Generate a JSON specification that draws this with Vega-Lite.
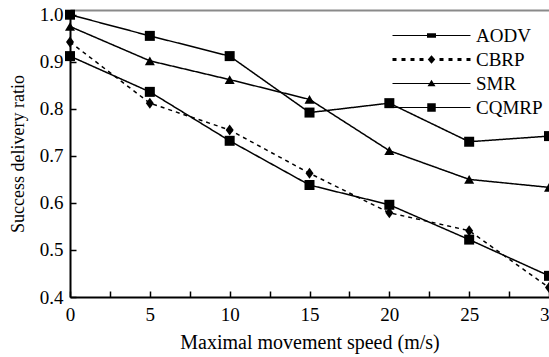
{
  "$schema": "https://vega.github.io/schema/vega-lite/v6.json",
  "width": 479,
  "height": 287,
  "autosize": "none",
  "padding": {"left": 70, "top": 10, "right": 0, "bottom": 60},
  "background": "white",
  "config": {
    "view": {"stroke": null},
    "font": "Liberation Serif",
    "axis": {
      "domainColor": "black",
      "domainWidth": 2,
      "tickColor": "black",
      "tickWidth": 1.5,
      "labelColor": "black",
      "titleColor": "black",
      "labelFont": "Liberation Serif",
      "titleFont": "Liberation Serif",
      "labelFontSize": 19,
      "titleFontSize": 19,
      "titleFontWeight": "normal",
      "grid": false
    },
    "legend": {
      "labelFont": "Liberation Serif",
      "labelFontSize": 19,
      "labelColor": "black"
    }
  },
  "resolve": {"scale": {"shape": "independent"}, "legend": {"shape": "independent"}},
  "data": {
    "values": [
      {"speed": 0, "protocol": "AODV", "ratio": 0.912},
      {"speed": 5, "protocol": "AODV", "ratio": 0.836},
      {"speed": 10, "protocol": "AODV", "ratio": 0.732},
      {"speed": 15, "protocol": "AODV", "ratio": 0.638},
      {"speed": 20, "protocol": "AODV", "ratio": 0.596},
      {"speed": 25, "protocol": "AODV", "ratio": 0.522},
      {"speed": 30, "protocol": "AODV", "ratio": 0.445},
      {"speed": 0, "protocol": "CBRP", "ratio": 0.942},
      {"speed": 5, "protocol": "CBRP", "ratio": 0.812},
      {"speed": 10, "protocol": "CBRP", "ratio": 0.755},
      {"speed": 15, "protocol": "CBRP", "ratio": 0.663},
      {"speed": 20, "protocol": "CBRP", "ratio": 0.579},
      {"speed": 25, "protocol": "CBRP", "ratio": 0.541},
      {"speed": 30, "protocol": "CBRP", "ratio": 0.42},
      {"speed": 0, "protocol": "SMR", "ratio": 0.975},
      {"speed": 5, "protocol": "SMR", "ratio": 0.902},
      {"speed": 10, "protocol": "SMR", "ratio": 0.862},
      {"speed": 15, "protocol": "SMR", "ratio": 0.82},
      {"speed": 20, "protocol": "SMR", "ratio": 0.711},
      {"speed": 25, "protocol": "SMR", "ratio": 0.65},
      {"speed": 30, "protocol": "SMR", "ratio": 0.633},
      {"speed": 0, "protocol": "CQMRP", "ratio": 1.0},
      {"speed": 5, "protocol": "CQMRP", "ratio": 0.955},
      {"speed": 10, "protocol": "CQMRP", "ratio": 0.912},
      {"speed": 15, "protocol": "CQMRP", "ratio": 0.792},
      {"speed": 20, "protocol": "CQMRP", "ratio": 0.812},
      {"speed": 25, "protocol": "CQMRP", "ratio": 0.73},
      {"speed": 30, "protocol": "CQMRP", "ratio": 0.742}
    ]
  },
  "layer": [
    {
      "mark": {"type": "line", "color": "black", "strokeWidth": 1.5, "clip": false},
      "encoding": {
        "x": {
          "field": "speed", "type": "quantitative",
          "scale": {"domain": [0, 30], "nice": false},
          "axis": {"orient": "top", "labels": false, "ticks": false, "title": null, "domainColor": "#8a8a8a", "domainWidth": 2}
        },
        "y": {
          "field": "ratio", "type": "quantitative",
          "scale": {"domain": [0.4, 1.01], "nice": false, "zero": false}
        },
        "detail": {"field": "protocol"},
        "strokeDash": {
          "condition": {"test": "datum.protocol == 'CBRP'", "value": [4, 4]},
          "value": [1, 0]
        },
        "strokeWidth": {
          "condition": {"test": "datum.protocol == 'CBRP'", "value": 2.2},
          "value": 1.5
        }
      }
    },
    {
      "mark": {"type": "point", "filled": true, "color": "black", "opacity": 1, "size": 100, "clip": false},
      "encoding": {
        "x": {
          "field": "speed", "type": "quantitative",
          "scale": {"domain": [0, 30], "nice": false},
          "axis": {
            "orient": "bottom",
            "values": [0, 2.5, 5, 7.5, 10, 12.5, 15, 17.5, 20, 22.5, 25, 27.5, 30],
            "labelExpr": "datum.value % 5 == 0 ? datum.label : ''",
            "tickSize": -6,
            "labelPadding": 14,
            "labelFlush": false,
            "labelOverlap": false,
            "title": "Maximal movement speed (m/s)",
            "titleFontSize": 20,
            "titlePadding": 8
          }
        },
        "y": {
          "field": "ratio", "type": "quantitative",
          "scale": {"domain": [0.4, 1.01], "nice": false, "zero": false},
          "axis": {
            "values": [0.4, 0.5, 0.6, 0.7, 0.8, 0.9, 1.0],
            "format": ".1f",
            "tickSize": -6,
            "labelPadding": 13,
            "labelFlush": false,
            "title": "Success delivery ratio",
            "titleFontSize": 18,
            "titlePadding": 12
          }
        },
        "shape": {
          "field": "protocol", "type": "nominal",
          "scale": {
            "domain": ["AODV", "CBRP", "SMR", "CQMRP"],
            "range": ["square", "M0,-1.1L0.8,0L0,1.1L-0.8,0Z", "triangle-up", "square"]
          },
          "legend": null
        }
      }
    },
    {
      "transform": [{"filter": "datum.speed < 0"}],
      "mark": {"type": "point", "filled": true, "color": "black", "opacity": 1, "size": 100},
      "encoding": {
        "shape": {
          "field": "protocol", "type": "nominal",
          "scale": {
            "domain": ["AODV", "CBRP", "SMR", "CQMRP"],
            "range": [
              "M-7.8,-0.1H7.8V0.1H-7.8ZM-0.9,-0.45H0.9V0.45H-0.9Z",
              "M-7.8,-0.3H-7V0.3H-7.8ZM-6,-0.3H-5.2V0.3H-6ZM-4.2,-0.3H-3.4V0.3H-4.2ZM-2.4,-0.3H-1.6V0.3H-2.4ZM1.6,-0.3H2.4V0.3H1.6ZM3.4,-0.3H4.2V0.3H3.4ZM5.2,-0.3H6V0.3H5.2ZM7,-0.3H7.8V0.3H7ZM0,-0.85L0.75,0L0,0.85L-0.75,0Z",
              "M-7.8,-0.1H7.8V0.1H-7.8ZM0,-0.75L0.8,0.55H-0.8Z",
              "M-7.8,-0.1H7.8V0.1H-7.8ZM-0.85,-0.85H0.85V0.85H-0.85Z"
            ]
          },
          "legend": {
            "title": null,
            "orient": "none",
            "legendX": 352,
            "legendY": 16,
            "symbolSize": 100,
            "labelOffset": 35,
            "rowPadding": 4,
            "symbolFillColor": "black",
            "symbolStrokeColor": "black",
            "symbolStrokeWidth": 0
          }
        }
      }
    }
  ]
}
